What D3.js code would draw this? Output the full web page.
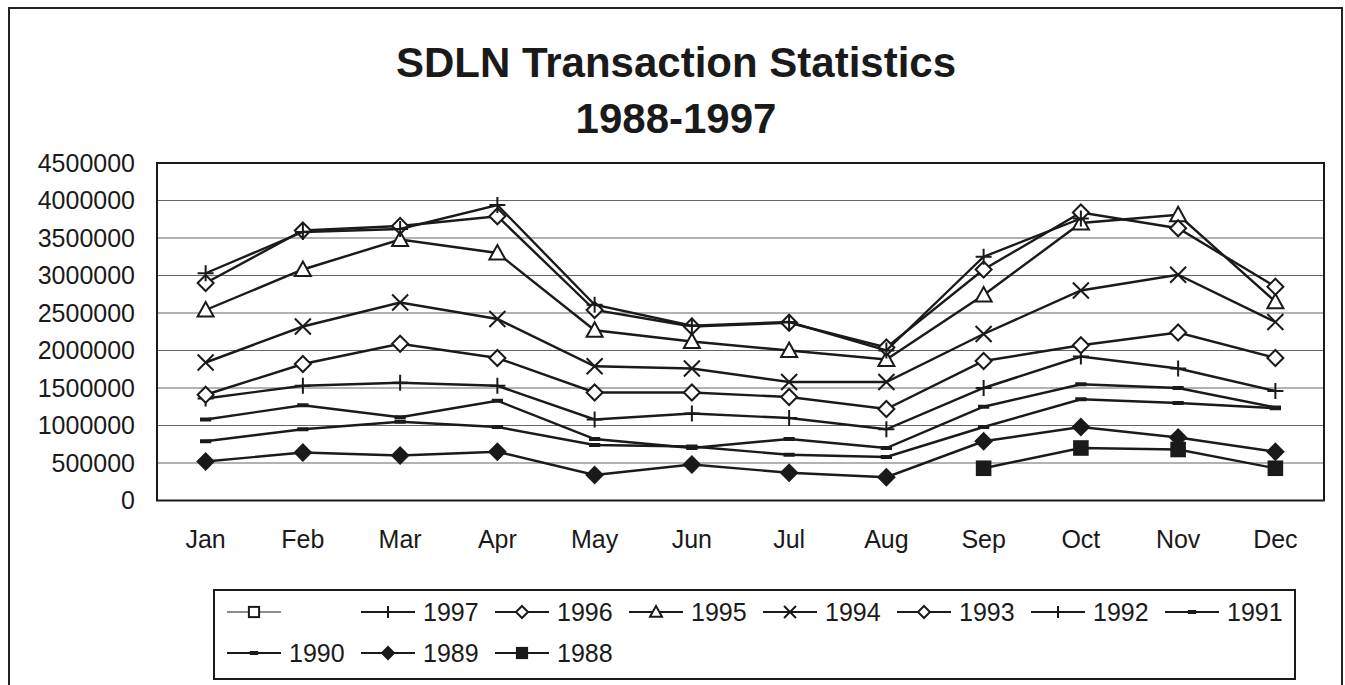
<!DOCTYPE html>
<html lang="en">
<head>
  <meta charset="UTF-8">
  <title>SDLN Transaction Statistics</title>
  <script src="https://d3js.org/d3.v7.min.js"></script>
  <style>
    body { margin: 0; background: #fff; }
    svg { display: block; font-family: Arial, "Liberation Sans", sans-serif; }
    .grid line { stroke: #666; stroke-width: 1.2px; }
    .series path.line { fill: none; stroke: #1a1a1a; stroke-width: 2.4px; }
  </style>
</head>
<body>
<script>
  // ---- data ----
  const months = ["Jan", "Feb", "Mar", "Apr", "May", "Jun", "Jul", "Aug", "Sep", "Oct", "Nov", "Dec"];
  const yTicks = [0, 500000, 1000000, 1500000, 2000000, 2500000, 3000000, 3500000, 4000000, 4500000];

  const v1997 = [3030000, 3580000, 3620000, 3940000, 2610000, 2330000, 2380000, 2000000, 3250000, 3760000, null, null];
  const v1996 = [2900000, 3600000, 3660000, 3790000, 2540000, 2320000, 2370000, 2040000, 3080000, 3840000, 3630000, 2850000];
  const v1995 = [2540000, 3080000, 3480000, 3300000, 2270000, 2120000, 2000000, 1880000, 2740000, 3700000, 3810000, 2650000];
  const v1994 = [1840000, 2320000, 2640000, 2420000, 1790000, 1760000, 1580000, 1580000, 2220000, 2800000, 3010000, 2380000];
  const v1993 = [1410000, 1820000, 2090000, 1900000, 1440000, 1440000, 1380000, 1220000, 1860000, 2070000, 2240000, 1900000];
  const v1992 = [1360000, 1530000, 1570000, 1530000, 1080000, 1160000, 1100000, 950000, 1500000, 1920000, 1760000, 1460000];
  const v1991 = [1080000, 1270000, 1110000, 1330000, 820000, 700000, 820000, 700000, 1250000, 1550000, 1500000, 1240000];
  const v1990 = [790000, 950000, 1050000, 980000, 740000, 720000, 610000, 580000, 980000, 1350000, 1300000, 1230000];
  const v1989 = [520000, 640000, 600000, 650000, 340000, 480000, 370000, 310000, 790000, 980000, 840000, 650000];
  const v1988 = [null, null, null, null, null, null, null, null, 430000, 700000, 680000, 430000];

  // legend order as in the original (first entry is an unnamed, empty series)
  const series = [
    {name: "", marker: "square", values: []},
    {name: "1997", marker: "plus", values: v1997},
    {name: "1996", marker: "diamond", values: v1996},
    {name: "1995", marker: "triangle", values: v1995},
    {name: "1994", marker: "cross", values: v1994},
    {name: "1993", marker: "diamond", values: v1993},
    {name: "1992", marker: "plus", values: v1992},
    {name: "1991", marker: "dash", values: v1991},
    {name: "1990", marker: "dash", values: v1990},
    {name: "1989", marker: "filldiamond", values: v1989},
    {name: "1988", marker: "fillsquare", values: v1988}
  ];

  const width = 1345, height = 685;
  const plot = {left: 157, right: 1324, top: 163, bottom: 500.5};

  const svg = d3.select("body").append("svg")
    .attr("width", width).attr("height", height);

  // outer frame
  svg.append("rect")
    .attr("x", 9).attr("y", 8).attr("width", 1333).attr("height", 700)
    .attr("fill", "#fff").attr("stroke", "#222").attr("stroke-width", 2);

  // title
  const title = svg.append("text")
    .attr("text-anchor", "middle")
    .attr("font-weight", "bold").attr("font-size", 42).attr("fill", "#1a1a1a");
  title.append("tspan").attr("x", 676).attr("y", 77).text("SDLN Transaction Statistics");
  title.append("tspan").attr("x", 676).attr("y", 133).text("1988-1997");

  const x = d3.scaleBand().domain(months).range([plot.left, plot.right]);
  const y = d3.scaleLinear().domain([0, 4500000]).range([plot.bottom, plot.top]);
  const cx = m => x(m) + x.bandwidth() / 2;

  // gridlines
  svg.append("g").attr("class", "grid")
    .selectAll("line")
    .data(yTicks.filter(d => d > 0 && d < 4500000))
    .join("line")
    .attr("x1", plot.left).attr("x2", plot.right)
    .attr("y1", d => y(d)).attr("y2", d => y(d));

  // plot frame
  svg.append("rect")
    .attr("x", plot.left).attr("y", plot.top)
    .attr("width", plot.right - plot.left).attr("height", plot.bottom - plot.top)
    .attr("fill", "none").attr("stroke", "#1a1a1a").attr("stroke-width", 2);

  // axes
  const yAxis = svg.append("g")
    .attr("transform", `translate(${plot.left},0)`)
    .call(d3.axisLeft(y).tickValues(yTicks).tickFormat(d3.format("d")).tickSize(0).tickPadding(22));
  const xAxis = svg.append("g")
    .attr("transform", `translate(0,${plot.bottom})`)
    .call(d3.axisBottom(x).tickSize(0).tickPadding(30));
  [yAxis, xAxis].forEach(a => {
    a.select(".domain").remove();
    a.selectAll("text").attr("font-size", 25).attr("fill", "#1a1a1a")
      .attr("font-family", "Arial, 'Liberation Sans', sans-serif");
  });

  // marker drawing
  function drawMarker(g, type, s) {
    const st = "#1a1a1a";
    if (type === "plus") {
      g.append("path").attr("d", `M${-s},0H${s}M0,${-s}V${s}`)
        .attr("stroke", st).attr("stroke-width", 2).attr("fill", "none");
    } else if (type === "cross") {
      g.append("path").attr("d", `M${-s},${-s}L${s},${s}M${-s},${s}L${s},${-s}`)
        .attr("stroke", st).attr("stroke-width", 2).attr("fill", "none");
    } else if (type === "diamond" || type === "filldiamond") {
      g.append("path").attr("d", `M0,${-s}L${s},0L0,${s}L${-s},0Z`)
        .attr("stroke", st).attr("stroke-width", 2)
        .attr("fill", type === "filldiamond" ? st : "#fff");
    } else if (type === "triangle") {
      g.append("path").attr("d", `M0,${-s}L${s},${s * 0.8}L${-s},${s * 0.8}Z`)
        .attr("stroke", st).attr("stroke-width", 2).attr("fill", "#fff");
    } else if (type === "square" || type === "fillsquare") {
      g.append("rect").attr("x", -s * 0.85).attr("y", -s * 0.85)
        .attr("width", s * 1.7).attr("height", s * 1.7)
        .attr("stroke", st).attr("stroke-width", 2)
        .attr("fill", type === "fillsquare" ? st : "#fff");
    } else if (type === "dash") {
      g.append("path").attr("d", `M${-s * 0.7},0H${s * 0.7}`)
        .attr("stroke", st).attr("stroke-width", 4);
    }
  }

  const line = d3.line()
    .defined(d => d.v != null)
    .x(d => cx(d.m))
    .y(d => y(d.v));

  // draw from oldest to newest so the upper series sit on top
  const plotted = series.filter(s => s.values.length).slice().reverse();
  plotted.forEach(s => {
    const pts = months.map((m, i) => ({m: m, v: s.values[i]}));
    const g = svg.append("g").attr("class", "series");
    g.append("path").attr("class", "line").attr("d", line(pts));
    pts.filter(p => p.v != null).forEach(p => {
      const mg = g.append("g").attr("transform", `translate(${cx(p.m)},${y(p.v)})`);
      drawMarker(mg, s.marker, 8);
    });
  });

  // legend
  const legend = svg.append("g");
  legend.append("rect")
    .attr("x", 214).attr("y", 590).attr("width", 1081).attr("height", 89)
    .attr("fill", "#fff").attr("stroke", "#1a1a1a").attr("stroke-width", 2);

  const perRow = 8;
  series.forEach((s, i) => {
    const col = i % perRow, row = Math.floor(i / perRow);
    const lx = 227 + col * 134, ly = 612 + row * 41;
    const g = legend.append("g").attr("transform", `translate(${lx},${ly})`);
    g.append("line").attr("x1", 0).attr("x2", 54).attr("y1", 0).attr("y2", 0)
      .attr("stroke", "#1a1a1a").attr("stroke-width", s.name ? 2 : 1);
    const mg = g.append("g").attr("transform", "translate(27,0)");
    drawMarker(mg, s.marker, 6);
    g.append("text").attr("x", 62).attr("y", 0).attr("dy", "0.36em")
      .attr("font-size", 25).attr("fill", "#1a1a1a").text(s.name);
  });
</script>
</body>
</html>
